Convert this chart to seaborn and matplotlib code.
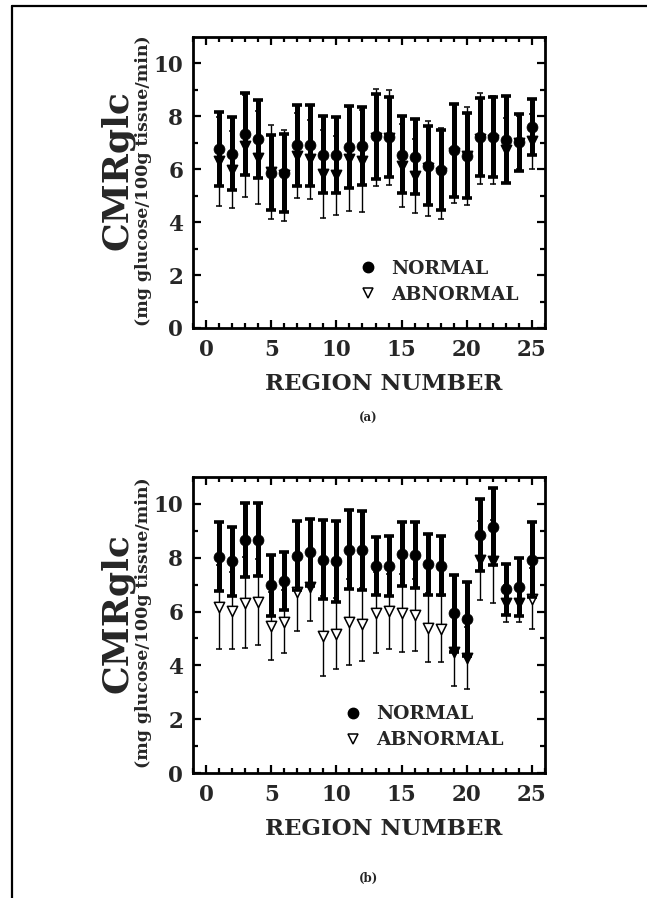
import numpy as np
import pandas as pd
import matplotlib
matplotlib.use("Agg")
import matplotlib.pyplot as plt
from matplotlib.lines import Line2D
import seaborn as sns

# ---------------- data ----------------
regions = list(range(1, 26))

normal_a_mean = [6.77, 6.59, 7.34, 7.14, 5.87, 5.85, 6.90, 6.90, 6.55, 6.55, 6.84, 6.89, 7.24,
                 7.22, 6.55, 6.47, 6.14, 5.97, 6.72, 6.52, 7.22, 7.22, 7.12, 7.02, 7.59]
normal_a_sd = [1.40, 1.38, 1.56, 1.48, 1.42, 1.48, 1.53, 1.52, 1.46, 1.44, 1.56, 1.48, 1.61,
               1.52, 1.45, 1.42, 1.49, 1.50, 1.75, 1.60, 1.48, 1.53, 1.65, 1.08, 1.05]
abnormal_a_mean = [6.30, 5.99, 6.89, 6.43, 5.90, 5.78, 6.52, 6.37, 5.81, 5.77, 6.39, 6.30, 7.20,
                   7.20, 6.14, 5.74, 6.03, 5.85, 6.60, 6.50, 7.15, 7.10, 6.72, 7.00, 7.05]
abnormal_a_sd = [1.68, 1.47, 1.92, 1.76, 1.78, 1.72, 1.59, 1.48, 1.67, 1.50, 1.96, 1.93, 1.85,
                 1.80, 1.58, 1.40, 1.81, 1.72, 1.88, 1.86, 1.72, 1.67, 1.23, 1.00, 1.03]

normal_b_mean = [8.04, 7.86, 8.67, 8.67, 6.97, 7.13, 8.08, 8.20, 7.93, 7.86, 8.30, 8.27, 7.69,
                 7.69, 8.14, 8.11, 7.75, 7.71, 5.93, 5.72, 8.85, 9.16, 6.83, 6.91, 7.93]
normal_b_sd = [1.28, 1.28, 1.37, 1.36, 1.14, 1.09, 1.27, 1.25, 1.48, 1.52, 1.47, 1.48, 1.09,
               1.11, 1.19, 1.23, 1.14, 1.10, 1.42, 1.39, 1.34, 1.42, 0.95, 1.07, 1.39]
abnormal_b_mean = [6.17, 6.03, 6.33, 6.36, 5.46, 5.62, 6.72, 6.90, 5.10, 5.18, 5.62, 5.52, 5.96,
                   6.01, 5.96, 5.87, 5.40, 5.35, 4.50, 4.29, 7.90, 7.86, 6.30, 6.30, 6.48]
abnormal_b_sd = [1.57, 1.43, 1.69, 1.60, 1.25, 1.17, 1.43, 1.25, 1.48, 1.31, 1.60, 1.35, 1.51,
                 1.40, 1.45, 1.33, 1.29, 1.22, 1.28, 1.15, 1.48, 1.53, 0.68, 0.70, 1.13]

x_ticks = [0, 5, 10, 15, 20, 25]
y_ticks = [0, 2, 4, 6, 8, 10]
legend_labels = ["NORMAL", "ABNORMAL"]
panel_tags = ["(a)", "(b)"]
x_title = "REGION NUMBER"
y_title = "CMRglc"
y_units = "(mg glucose/100g tissue/min)"

# ---------------- style ----------------
sns.set_theme(style="ticks")
plt.rcParams["font.family"] = ["DejaVu Serif", "DejaVu Sans"]
plt.rcParams["font.weight"] = "bold"
plt.rcParams["axes.labelweight"] = "bold"

W, H = 647, 898
fig = plt.figure(figsize=(W / 100, H / 100), dpi=100)
fig.patch.set_facecolor("white")


def px_axes(left, top, right, bottom):
    return [left / W, 1 - bottom / H, (right - left) / W, (bottom - top) / H]


ax_a = fig.add_axes(px_axes(193, 37, 545, 328))
ax_b = fig.add_axes(px_axes(193, 477, 545, 773))

panels = [
    (ax_a, normal_a_mean, normal_a_sd, abnormal_a_mean, abnormal_a_sd, (0.470, 0.159)),
    (ax_b, normal_b_mean, normal_b_sd, abnormal_b_mean, abnormal_b_sd, (0.428, 0.154)),
]

for ax, nm, ns, am, asd, leg_pos in panels:
    df = pd.DataFrame({
        "region": regions * 2,
        "mean": nm + am,
        "sd": ns + asd,
        "group": ["NORMAL"] * 25 + ["ABNORMAL"] * 25,
    })
    ab = df[df.group == "ABNORMAL"].reset_index(drop=True)
    no = df[df.group == "NORMAL"].reset_index(drop=True)
    # open triangles hidden inside the thick normal bar print solid black
    inside = ab["mean"] > (no["mean"] - no["sd"] - 0.05)
    ab["face"] = np.where(inside, "black", "white")

    # abnormal: thin error bars, open triangles
    ax.errorbar(ab["region"], ab["mean"], yerr=ab["sd"], fmt="none", ecolor="black",
                elinewidth=1.0, capsize=2.4, capthick=1.1, zorder=2)
    for face, sub in ab.groupby("face"):
        sns.scatterplot(data=sub, x="region", y="mean", marker="v", s=55, color=face,
                        edgecolor="black", linewidth=1.1, ax=ax, zorder=3, legend=False)
    # normal: thick error bars, filled circles
    ax.errorbar(no["region"], no["mean"], yerr=no["sd"], fmt="none", ecolor="black",
                elinewidth=3.6, capsize=3.4, capthick=2.6, zorder=4)
    sns.scatterplot(data=no, x="region", y="mean", marker="o", s=62, color="black",
                    edgecolor="black", linewidth=0.5, ax=ax, zorder=5, legend=False)

    ax.set_xlim(-1, 26)
    ax.set_ylim(0, 11)
    ax.set_xticks(x_ticks)
    ax.set_xticks(range(-1, 27), minor=True)
    ax.set_yticks(y_ticks)
    ax.set_yticks(range(1, 11, 2), minor=True)
    ax.set_xlabel("")
    ax.set_ylabel("")
    ax.tick_params(which="both", direction="in", top=True, right=True, width=1.6, color="black")
    ax.tick_params(which="major", length=6)
    ax.tick_params(which="minor", length=3.5)
    ax.tick_params(axis="x", labelsize=15.5, pad=8)
    ax.tick_params(axis="y", labelsize=15.5, pad=7)
    for lab in ax.get_xticklabels() + ax.get_yticklabels():
        lab.set_fontweight("bold")
    for sp in ax.spines.values():
        sp.set_linewidth(2.0)
        sp.set_color("black")
    ax.set_facecolor("white")

    handles = [
        Line2D([], [], ls="none", marker="o", ms=7.5, mfc="black", mec="black"),
        Line2D([], [], ls="none", marker="v", ms=7, mfc="white", mec="black", mew=1.1),
    ]
    ax.legend(handles, legend_labels, loc="center left", bbox_to_anchor=leg_pos,
              frameon=False, borderpad=0, borderaxespad=0, handlelength=1.0,
              handletextpad=0.75, labelspacing=0.42,
              prop={"family": "DejaVu Serif", "weight": "bold", "size": 13.5})

# axis titles and tags (figure text)
for i, (top, bottom, tag_y) in enumerate([(37, 328, 418), (477, 773, 878)]):
    cy = (top + bottom) / 2
    fig.text(384 / W, 1 - (bottom + 56) / H, x_title, ha="center", va="center",
             fontsize=16.5, fontweight="bold")
    fig.text(117 / W, 1 - (cy - 12) / H, y_title, ha="center", va="center", rotation=90,
             fontsize=26, fontweight="bold")
    fig.text(144 / W, 1 - (cy - 2) / H, y_units, ha="center", va="center", rotation=90,
             fontsize=12.5, fontweight="bold")
    fig.text(368 / W, 1 - tag_y / H, panel_tags[i],
             ha="center", va="center", fontsize=8.5, fontweight="bold")

# page border (left and top rules)
fig.add_artist(Line2D([11.5 / W, 11.5 / W], [0, 1 - 6 / H], color="black", lw=1.6))
fig.add_artist(Line2D([11.5 / W, 1], [1 - 6 / H, 1 - 6 / H], color="black", lw=1.6))

fig.savefig("out.png", dpi=100, facecolor="white")
